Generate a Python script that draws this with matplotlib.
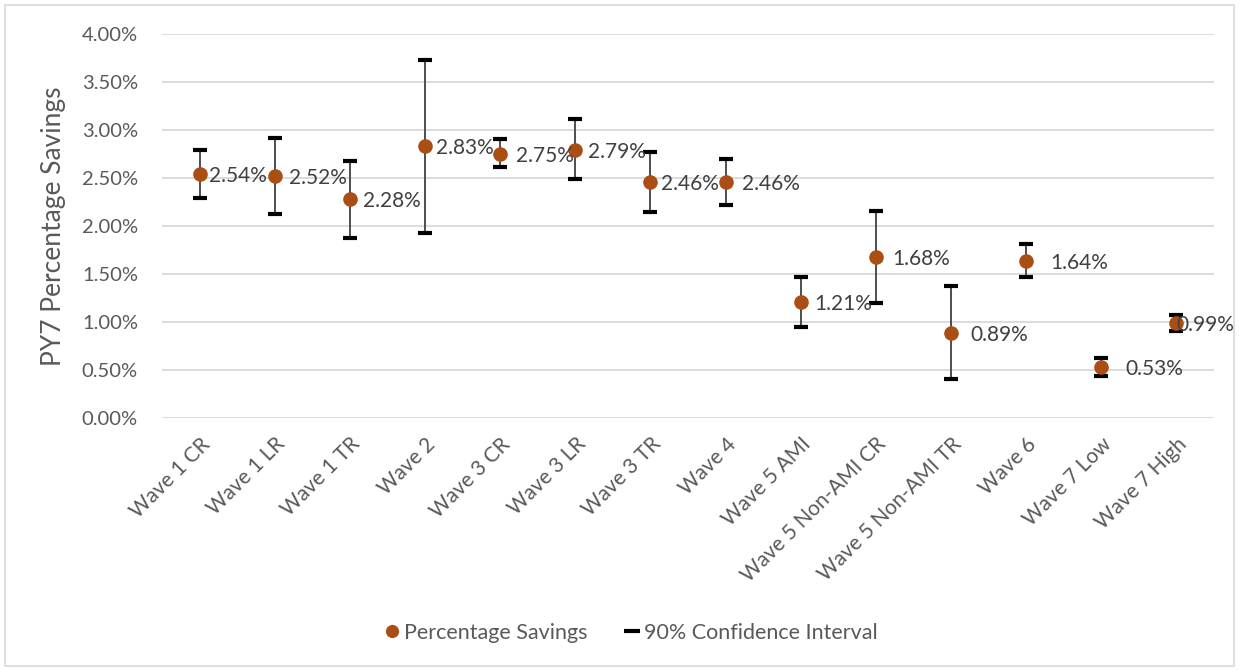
import matplotlib
matplotlib.use("Agg")
import matplotlib.pyplot as plt
from matplotlib.lines import Line2D
from matplotlib.ticker import PercentFormatter

plt.rcParams['font.family'] = ['Lato', 'DejaVu Sans']

categories = ["Wave 1 CR", "Wave 1 LR", "Wave 1 TR", "Wave 2", "Wave 3 CR",
              "Wave 3 LR", "Wave 3 TR", "Wave 4", "Wave 5 AMI",
              "Wave 5 Non-AMI CR", "Wave 5 Non-AMI TR", "Wave 6",
              "Wave 7 Low", "Wave 7 High"]
savings = [2.54, 2.52, 2.28, 2.83, 2.75, 2.79, 2.46, 2.46, 1.21, 1.68, 0.89,
           1.64, 0.53, 0.99]
ci_upper = [2.79, 2.92, 2.68, 3.73, 2.91, 3.11, 2.77, 2.70, 1.47, 2.16, 1.37,
            1.81, 0.62, 1.07]
ci_lower = [2.29, 2.12, 1.88, 1.93, 2.61, 2.49, 2.15, 2.22, 0.95, 1.20, 0.41,
            1.47, 0.44, 0.91]
y_ticks = [0, 0.5, 1.0, 1.5, 2.0, 2.5, 3.0, 3.5, 4.0]

# horizontal gap (pixels) between each point and its value label
label_dx = [9, 14, 13, 11, 16, 13, 11, 16, 14, 16, 19, 24, 24, 0]

marker_color = "#AA4E14"
text_color = "#595959"
label_color = "#404040"
grid_color = "#D9D9D9"

W, H = 1239, 671
DPI = 100
fig = plt.figure(figsize=(W / DPI, H / DPI), dpi=DPI)
ax = fig.add_axes([162 / W, 1 - 418 / H, (1214 - 162) / W, (418 - 34) / H])

x = list(range(len(categories)))
err_low = [s - lo for s, lo in zip(savings, ci_lower)]
err_high = [hi - s for s, hi in zip(savings, ci_upper)]

ax.errorbar(x, savings, yerr=[err_low, err_high], fmt='none',
            ecolor="#404040", elinewidth=1.3, capsize=0, zorder=3)
# thick black caps at the interval ends
for ends in (ci_upper, ci_lower):
    ax.plot(x, ends, linestyle='none', marker='_', markersize=10.5,
            markeredgewidth=3, color='black', zorder=4)
ax.plot(x, savings, linestyle='none', marker='o', markersize=10.5,
        color=marker_color, markeredgewidth=0, zorder=5)

px2pt = 72 / DPI
for xi, v, dx in zip(x, savings, label_dx):
    ax.annotate(f"{v:.2f}%", (xi, v), xytext=(dx * px2pt, -2 * px2pt),
                textcoords='offset points', ha='left', va='center',
                fontsize=15, color=label_color, zorder=6)

ax.set_xlim(-0.5, len(categories) - 0.5)
ax.set_ylim(0, 4.0)
ax.set_yticks(y_ticks)
ax.yaxis.set_major_formatter(PercentFormatter(decimals=2))
ax.grid(axis='y', color=grid_color, linewidth=1.3)
ax.set_axisbelow(True)
for s in ax.spines.values():
    s.set_visible(False)
ax.tick_params(axis='both', length=0, labelcolor=text_color)
ax.tick_params(axis='y', pad=24 * px2pt, labelsize=14.5)

ax.set_xticks(x)
ax.set_xticklabels(categories, rotation=45, ha='right', rotation_mode='anchor')
ax.tick_params(axis='x', pad=16 * px2pt, labelsize=15)

ax.set_ylabel("PY7 Percentage Savings", fontsize=19, color=text_color)
ax.yaxis.label.set_va('center')
ax.yaxis.set_label_coords((54 - 162) / (1214 - 162), 0.5)

handles = [
    Line2D([], [], linestyle='none', marker='o', markersize=9.5,
           color=marker_color, markeredgewidth=0),
    Line2D([], [], linestyle='none', marker='_', markersize=11,
           markeredgewidth=3, color='black'),
]
leg = fig.legend(handles, ["Percentage Savings", "90% Confidence Interval"],
                 loc='center', bbox_to_anchor=(0.508, 1 - 633 / H), ncol=2,
                 frameon=False, fontsize=15.5, handletextpad=0.05,
                 columnspacing=1.6, handlelength=1.0)
for t in leg.get_texts():
    t.set_color(text_color)

# light frame around the whole chart
fig.patches.append(plt.Rectangle((5 / W, 5 / H), 1 - 10 / W, 1 - 10 / H,
                                 transform=fig.transFigure, fill=False,
                                 edgecolor="#D9D9D9", linewidth=1.2))

fig.savefig("out.png", dpi=DPI)
